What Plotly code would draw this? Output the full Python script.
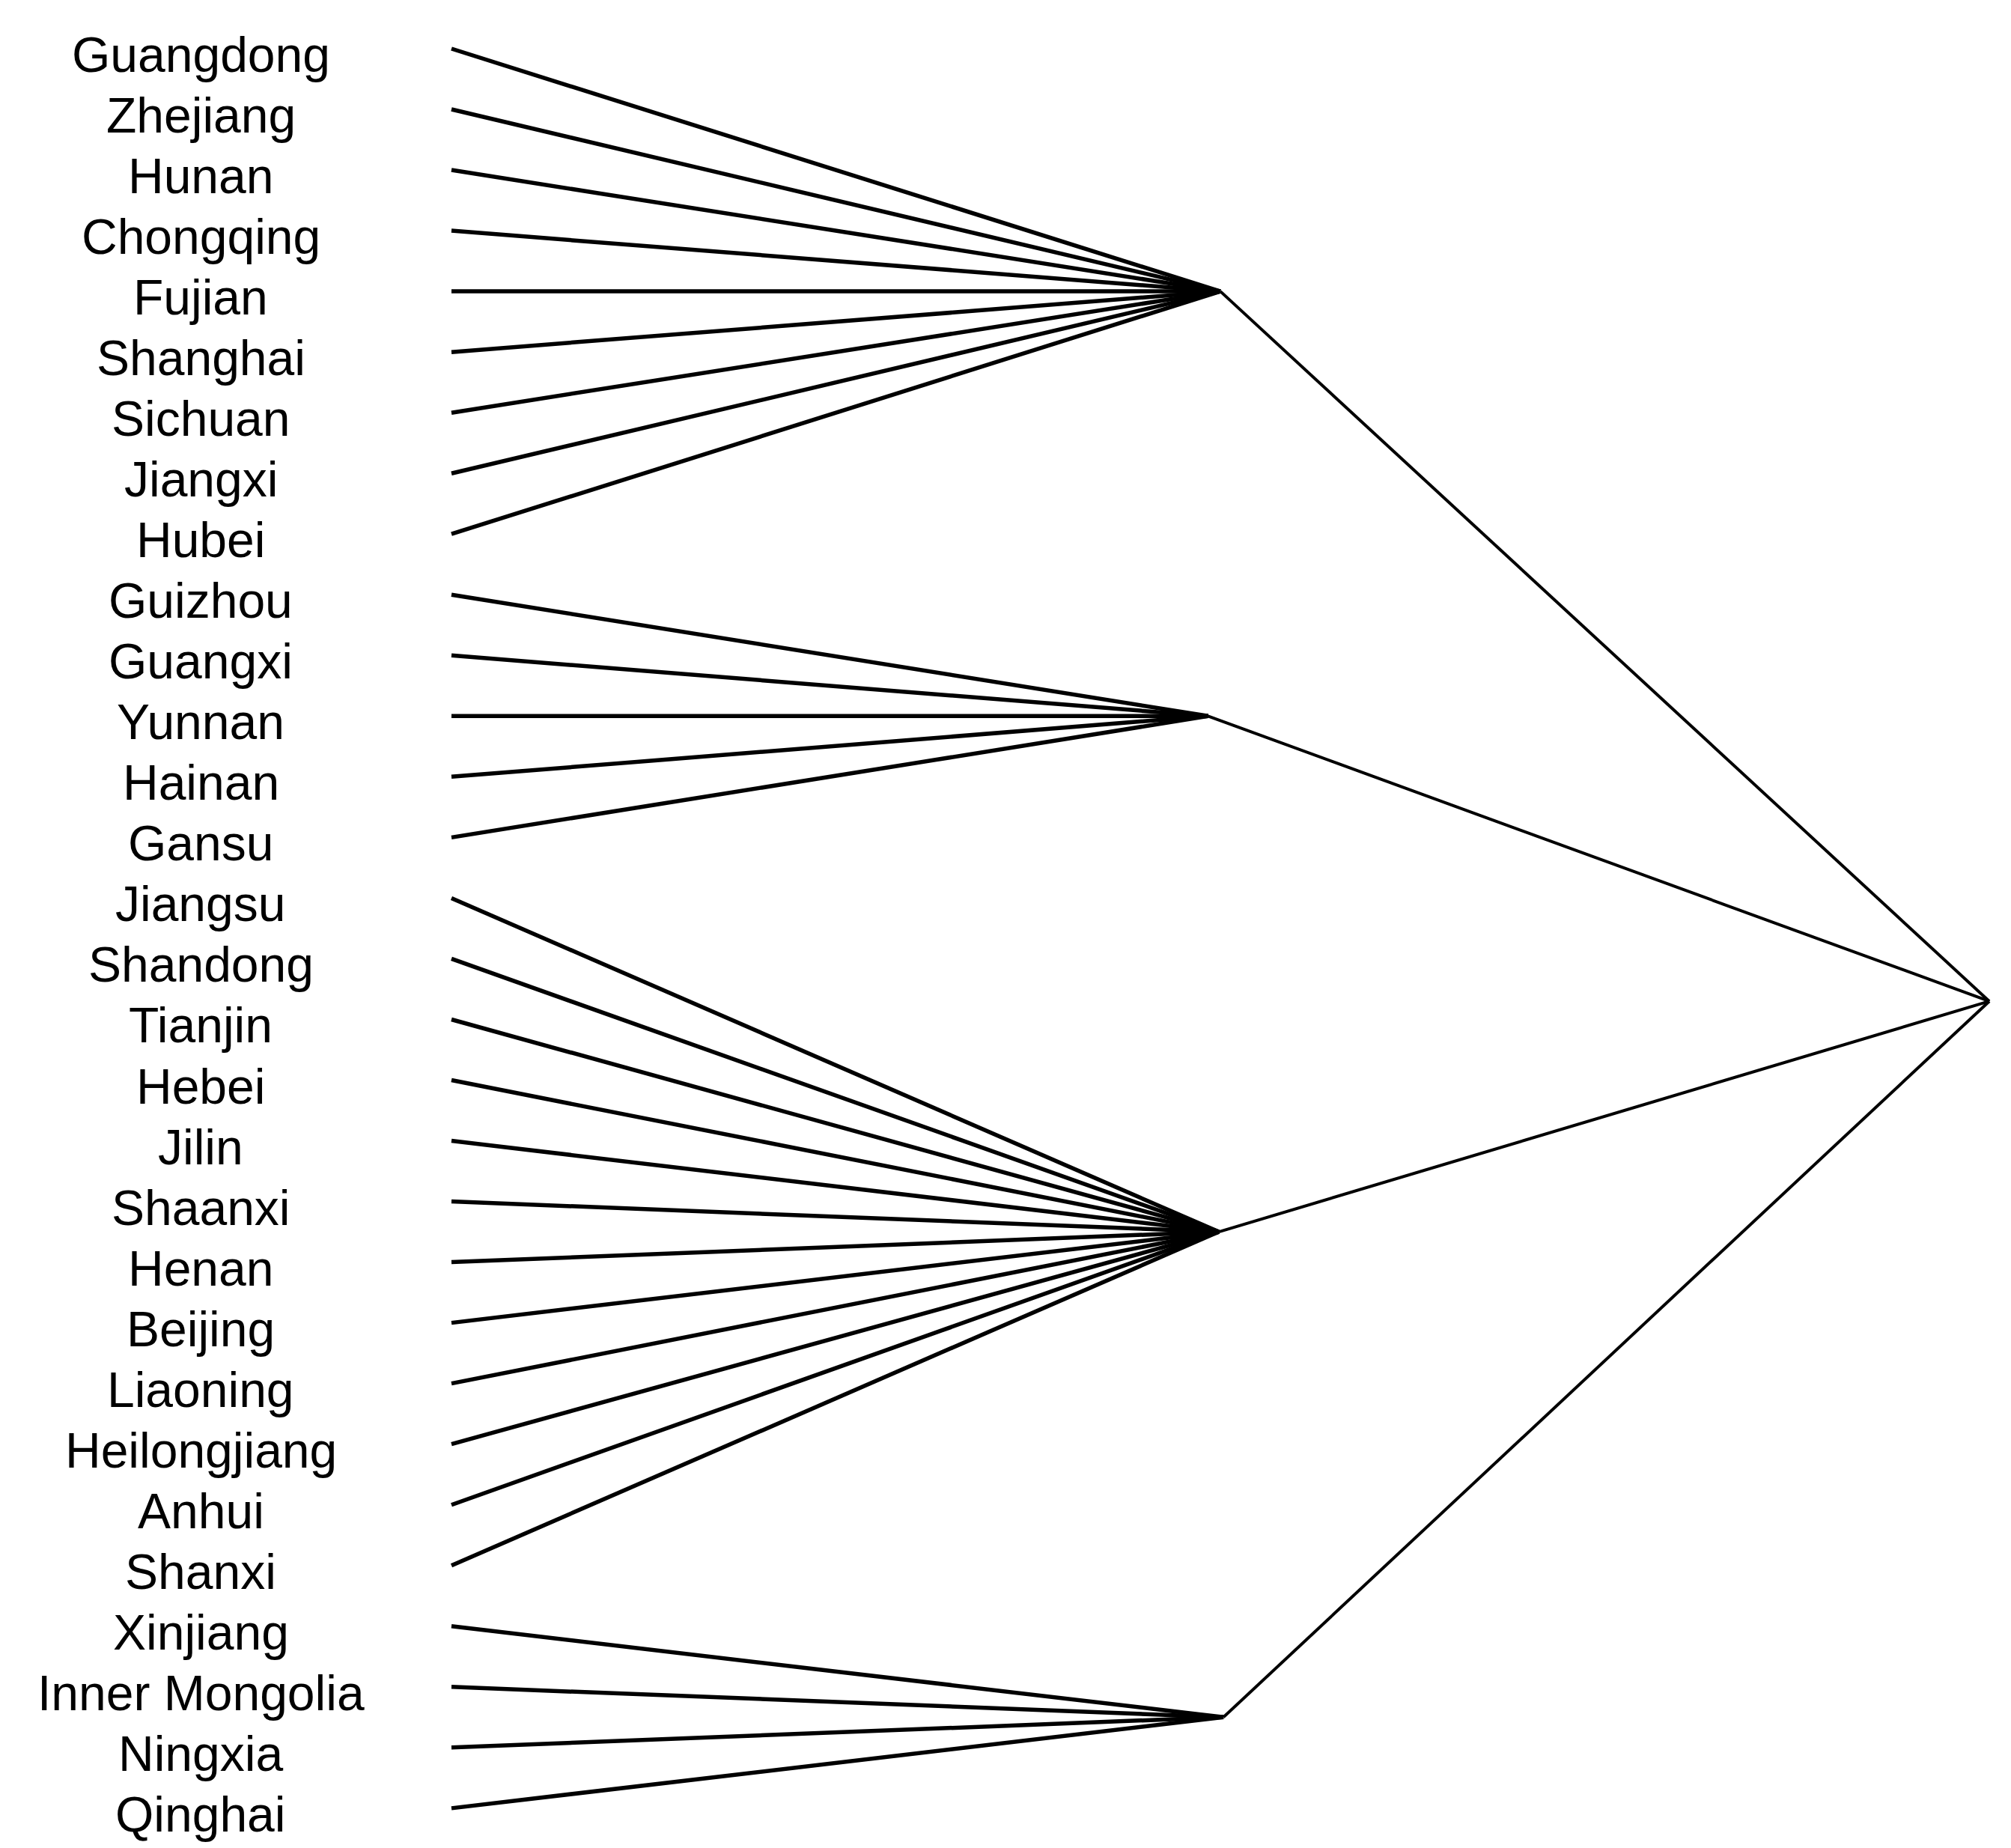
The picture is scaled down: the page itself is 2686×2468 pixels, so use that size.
import plotly.graph_objects as go

# leaves, top to bottom
provinces = ["Guangdong", "Zhejiang", "Hunan", "Chongqing", "Fujian", "Shanghai",
             "Sichuan", "Jiangxi", "Hubei",
             "Guizhou", "Guangxi", "Yunnan", "Hainan", "Gansu",
             "Jiangsu", "Shandong", "Tianjin", "Hebei", "Jilin", "Shaanxi",
             "Henan", "Beijing", "Liaoning", "Heilongjiang", "Anhui", "Shanxi",
             "Xinjiang", "Inner Mongolia", "Ningxia", "Qinghai"]
cluster_of = [0, 0, 0, 0, 0, 0, 0, 0, 0,
              1, 1, 1, 1, 1,
              2, 2, 2, 2, 2, 2, 2, 2, 2, 2, 2, 2,
              3, 3, 3, 3]
cluster_height = [0.500, 0.492, 0.499, 0.502]   # merge distance of each cluster
root_height = 1.0
root_row = 15.7

n_clusters = len(cluster_height)
cluster_row = []
for c in range(n_clusters):
    rows = [i for i, k in enumerate(cluster_of) if k == c]
    cluster_row.append(sum(rows) / len(rows))

# leaf -> cluster segments
lx, ly = [], []
for i, c in enumerate(cluster_of):
    lx += [0, cluster_height[c], None]
    ly += [i, cluster_row[c], None]

# cluster -> root segments
rx, ry = [], []
for c in range(n_clusters):
    rx += [cluster_height[c], root_height, None]
    ry += [cluster_row[c], root_row, None]

fig = go.Figure()
fig.add_trace(go.Scatter(x=lx, y=ly, mode="lines",
                         line=dict(color="black", width=5.5), hoverinfo="skip"))
fig.add_trace(go.Scatter(x=rx, y=ry, mode="lines",
                         line=dict(color="black", width=4), hoverinfo="skip"))

for i, name in enumerate(provinces):
    fig.add_annotation(x=0.0974, xref="paper", y=i, yref="y", text=name,
                       showarrow=False, xanchor="center", yanchor="middle",
                       yshift=-8,
                       font=dict(family="Liberation Sans, Arial", size=66, color="black"))

# page body keeps its default 8px margin, so the figure is 16px smaller
fig.update_xaxes(range=[-0.28968, 1.01022], visible=False)
fig.update_yaxes(range=[29.557, -0.7034], visible=False)
fig.update_layout(width=2670, height=2452, margin=dict(l=0, r=0, t=0, b=0),
                  plot_bgcolor="white", paper_bgcolor="white", showlegend=False)
fig.write_html("out.html")
